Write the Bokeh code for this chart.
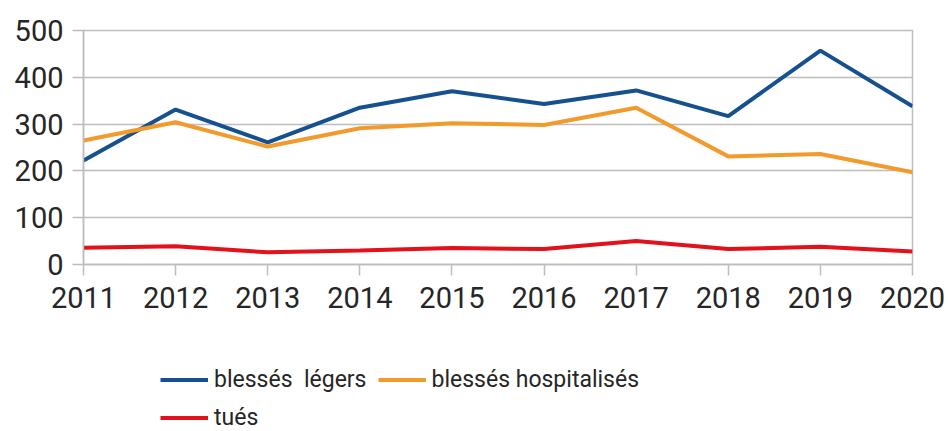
from bokeh.plotting import figure
from bokeh.models import Legend, LegendItem, FixedTicker, Range1d
from bokeh.layouts import column
from bokeh.embed import file_html
from bokeh.resources import INLINE

years = [2011, 2012, 2013, 2014, 2015, 2016, 2017, 2018, 2019, 2020]
blesses_legers = [222, 331, 261, 335, 370, 343, 372, 317, 457, 338]
blesses_hospitalises = [265, 304, 252, 291, 302, 298, 335, 231, 236, 197]
tues = [36, 39, 26, 30, 35, 33, 50, 33, 38, 28]
y_ticks = [0, 100, 200, 300, 400, 500]
series = [("blessés  légers", blesses_legers, "#15508f"),
          ("blessés hospitalisés", blesses_hospitalises, "#f39a2c"),
          ("tués", tues, "#e2111b")]

FONT = "Roboto"
GRID = "#bdbdbd"
TEXT = "#262626"

p = figure(frame_width=829, frame_height=234, min_border_left=83, min_border_right=36,
           min_border_top=30, min_border_bottom=76, output_backend="svg",
           toolbar_location=None, x_range=Range1d(2011, 2020), y_range=Range1d(0, 500))
p.background_fill_color = "white"
p.border_fill_color = "white"
p.outline_line_color = GRID
p.outline_line_width = 1.5

p.xgrid.grid_line_color = None
p.ygrid.grid_line_color = GRID
p.ygrid.grid_line_width = 1.5

p.xaxis.ticker = FixedTicker(ticks=years)
p.yaxis.ticker = FixedTicker(ticks=y_ticks)
for ax in (p.xaxis, p.yaxis):
    ax.axis_line_color = GRID
    ax.axis_line_width = 1.5
    ax.major_tick_line_color = GRID
    ax.major_tick_line_width = 1.5
    ax.major_tick_out = 11
    ax.major_tick_in = 0
    ax.minor_tick_line_color = None
    ax.major_label_text_font = FONT
    ax.major_label_text_font_size = "29px"
    ax.major_label_text_color = TEXT
p.xaxis.major_label_standoff = 11
p.yaxis.major_label_standoff = 9

for name, vals, color in series:
    p.line(years, vals, line_color=color, line_width=4)

# legend strip below the chart (its lines lie outside its view, only the legend shows)
lg = figure(frame_width=948, frame_height=91, min_border=0, output_backend="svg",
            toolbar_location=None, x_range=Range1d(0, 1), y_range=Range1d(0, 1))
lg.axis.visible = False
lg.grid.visible = False
lg.outline_line_color = None
lg.border_fill_color = "white"
items = []
for name, vals, color in series:
    r = lg.line(years, vals, line_color=color, line_width=4)
    items.append(LegendItem(label=name, renderers=[r]))

legend = Legend(items=items, location=(160, 0), orientation="horizontal", ncols=2,
                padding=0, margin=0, spacing=11, border_line_color=None,
                background_fill_alpha=0, glyph_width=48, glyph_height=27,
                label_height=27, label_standoff=6,
                label_text_font=FONT, label_text_font_size="23px",
                label_text_color=TEXT)
lg.add_layout(legend, "center")

open("out.html", "w").write(file_html(column(p, lg), INLINE))
